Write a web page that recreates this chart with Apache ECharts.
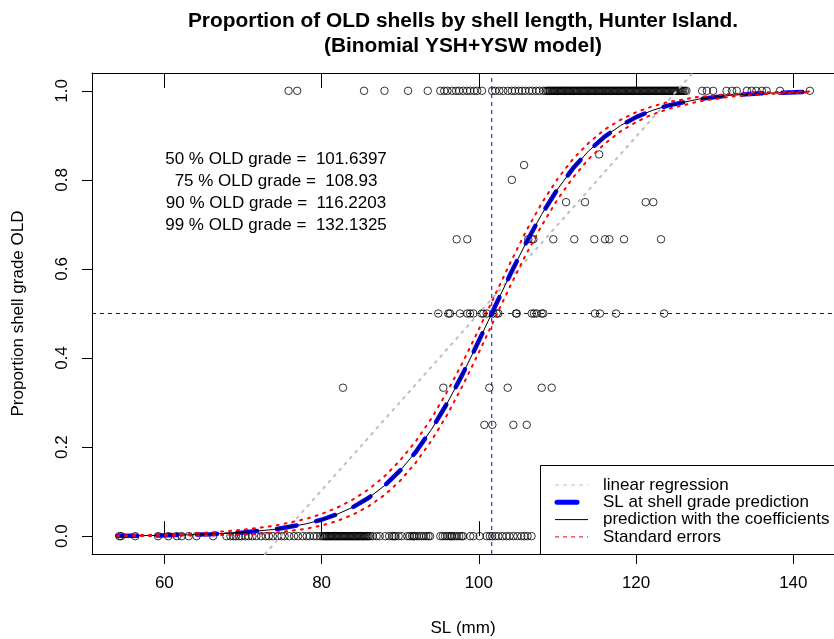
<!DOCTYPE html>
<html>
<head>
<meta charset="utf-8">
<script src="https://cdn.jsdelivr.net/npm/echarts@6/dist/echarts.min.js"></script>
<style>
  html, body { margin: 0; padding: 0; background: #fff; }
  #chart { width: 834px; height: 639px; }
</style>
</head>
<body>
<div id="chart"></div>
<script>
// Shell lengths (mm) of sampled groups, by observed proportion of OLD-grade shells
const slProp100 = [75.8, 76.9, 85.4, 88.0, 91.0, 93.5,
  95.1, 95.6, 96.0, 96.6, 97.1, 97.5, 98.0, 98.5, 98.9, 99.4, 99.8, 100.4,
  101.7, 102.1, 102.6, 103.1, 103.7, 104.2, 104.6, 105.1, 105.5, 105.9, 106.4, 106.8, 107.3, 107.7, 108.2, 108.5,
  108.7, 108.85, 109.0, 109.12, 109.3, 109.44, 109.58, 109.71, 109.88,
  110.02, 110.15, 110.33, 110.46, 110.6, 110.74, 110.9,
  111.03, 111.18, 111.32, 111.47, 111.61, 111.76, 111.92,
  112.05, 112.2, 112.34, 112.49, 112.63, 112.8, 112.94,
  113.08, 113.22, 113.37, 113.52, 113.66, 113.81, 113.95,
  114.1, 114.24, 114.38, 114.53, 114.69, 114.83, 114.97,
  115.12, 115.26, 115.41, 115.57, 115.7, 115.85,
  116.0, 116.14, 116.29, 116.44, 116.6, 116.73, 116.88,
  117.03, 117.17, 117.32, 117.48, 117.62, 117.77, 117.91,
  118.06, 118.2, 118.36, 118.5, 118.64, 118.8, 118.94,
  119.09, 119.23, 119.38, 119.53, 119.67, 119.82, 119.97,
  120.11, 120.26, 120.4, 120.56, 120.7, 120.85,
  121.0, 121.14, 121.29, 121.44, 121.59, 121.73, 121.88,
  122.03, 122.17, 122.32, 122.47, 122.62, 122.76, 122.91,
  123.06, 123.2, 123.35, 123.5, 123.65, 123.79, 123.94,
  124.09, 124.23, 124.38, 124.53, 124.68, 124.82, 124.97,
  125.12, 125.26, 125.41, 125.56, 125.71, 125.85, 126.0, 126.2, 126.4,
  128.4, 129.0, 129.8, 131.5, 132.2, 132.8, 134.1, 134.7, 135.3, 136.0, 136.6, 138.3, 142.1];

const slProp0 = [54.3, 54.5, 56.3, 59.2, 60.5, 61.6, 62.2, 63.1, 64.1, 66.2, 67.9,
  68.4, 68.8, 69.1, 69.5, 69.8, 70.3, 70.7, 71.2, 71.7, 72.3, 72.9, 73.3, 73.8, 74.4, 74.9, 75.3, 75.9, 76.5, 77.0, 77.6,
  78.1, 78.5, 79.0, 79.4, 79.8, 80.1,
  80.3, 80.45, 80.6, 80.74, 80.9, 81.05, 81.2, 81.34, 81.5, 81.65, 81.8, 81.94, 82.1, 82.25, 82.4, 82.54,
  82.7, 82.85, 83.0, 83.14, 83.3, 83.45, 83.6, 83.74, 83.9, 84.05, 84.2, 84.34, 84.5, 84.65, 84.8, 84.94,
  85.1, 85.25, 85.4, 85.54, 85.7, 85.85, 86.0, 86.2, 86.5,
  87.0, 87.4, 88.1, 88.6, 89.0, 89.2, 89.4, 89.8, 90.2, 90.9, 91.2, 91.5, 91.7, 91.8, 92.1, 92.4, 92.7, 93.0, 93.3, 93.6, 93.8,
  95.1, 95.4, 95.7, 96.0, 96.3, 96.5, 96.6, 96.9, 97.2, 97.5, 97.8, 98.0,
  98.9, 99.3, 100.1,
  101.0, 101.4, 101.7, 102.1, 102.5, 103.0, 103.5, 103.9, 104.4, 104.9, 105.4, 105.8, 106.2, 106.7];

const slProp50 = [94.84, 96.12, 96.33, 97.6, 98.53, 98.88, 99.3, 100.36, 100.57, 101.0, 101.84, 102.27, 102.48,
  104.73, 104.82, 106.73, 107.02, 107.36, 108.0, 108.2, 114.77, 115.4, 117.45, 123.56];
const slProp67 = [97.18, 98.53, 106.29, 106.73, 106.93, 109.47, 112.14, 114.68, 116.05, 116.6, 118.46, 123.17];
const slProp75 = [111.09, 113.5, 121.22, 122.19];
const slProp33 = [82.72, 95.48, 101.33, 103.67, 108.0, 109.27];
const slProp25 = [100.7, 101.72, 104.39, 106.09];
const slProp80 = [104.2];
const slProp83 = [105.75];
const slProp86 = [115.3];

// Fitted binomial model curve and its standard-error band
const curveSL = [54, 58, 62, 66, 70, 74, 78, 80, 82, 84, 86, 88, 90, 92, 94, 96, 98, 100, 102, 104,
  106, 108, 110, 112, 114, 116, 118, 120, 122, 124, 128, 132, 136, 142];
const fitProp = [0.0008, 0.0014, 0.0025, 0.0046, 0.0084, 0.0153, 0.0276, 0.0369, 0.0493, 0.0654,
  0.0864, 0.1134, 0.1475, 0.1896, 0.2403, 0.2994, 0.3661, 0.4386, 0.5136, 0.5880,
  0.6586, 0.7228, 0.7790, 0.8266, 0.8656, 0.8970, 0.9217, 0.9409, 0.9556, 0.9668, 0.9815, 0.9898, 0.9944, 0.9977];
const seUpper = [0.0018, 0.0029, 0.0050, 0.0086, 0.0144, 0.0233, 0.0386, 0.0499, 0.0643, 0.0824,
  0.1054, 0.1344, 0.1705, 0.2136, 0.2653, 0.3254, 0.3921, 0.4646, 0.5396, 0.6140,
  0.6846, 0.7478, 0.8020, 0.8476, 0.8836, 0.9130, 0.9347, 0.9519, 0.9646, 0.9748, 0.9865, 0.9928, 0.9964, 0.9987];
const seLower = [0.0003, 0.0006, 0.0012, 0.0022, 0.0034, 0.0073, 0.0166, 0.0239, 0.0343, 0.0484,
  0.0674, 0.0924, 0.1245, 0.1656, 0.2153, 0.2734, 0.3401, 0.4126, 0.4876, 0.5620,
  0.6326, 0.6978, 0.7560, 0.8056, 0.8476, 0.8810, 0.9087, 0.9299, 0.9466, 0.9588, 0.9765, 0.9868, 0.9924, 0.9967];

// Straight-line (linear regression) fit, end points across the plot
const linearSL = [72.8, 127.2];
const linearProp = [-0.04, 1.04];

// OLD-grade thresholds from the model
const gradePct = [50, 75, 90, 99];
const gradeSL = [101.6397, 108.93, 116.2203, 132.1325];
const halfProp = 0.5;

// Axis ticks
const xTicks = [60, 80, 100, 120, 140];
const yTicks = [0, 0.2, 0.4, 0.6, 0.8, 1.0];

const FONT = "'Liberation Sans', Arial, Helvetica, sans-serif";
const FS = 17;

const xRange = { min: 50.8, max: 145.17 };
const yRange = { min: -0.04, max: 1.04 };

const pointGroups = [
  [slProp0, 0], [slProp25, 0.25], [slProp33, 1 / 3], [slProp50, 0.5], [slProp67, 2 / 3],
  [slProp75, 0.75], [slProp80, 0.8], [slProp83, 5 / 6], [slProp86, 6 / 7], [slProp100, 1]
];
const pointData = [];
pointGroups.forEach(([xs, p]) => xs.forEach(x => pointData.push([x, p])));

const zip = (xs, ys) => xs.map((x, i) => [x, ys[i]]);

const chart = echarts.init(document.getElementById('chart'), null, { renderer: 'canvas' });

const tickStyle = { color: '#000', width: 1 };

const option = {
  animation: false,
  backgroundColor: '#ffffff',
  textStyle: { fontFamily: FONT, color: '#000' },
  title: {
    text: 'Proportion of OLD shells by shell length, Hunter Island.\n(Binomial YSH+YSW model)',
    left: 463,
    top: 9,
    textAlign: 'center',
    padding: 0,
    textStyle: { fontFamily: FONT, fontSize: 20.9, fontWeight: 'bold', color: '#000', lineHeight: 25 }
  },
  grid: { left: 92, top: 73, right: 0, bottom: 85, show: false, outerBoundsMode: 'none', containLabel: false },
  xAxis: [
    {
      type: 'value', position: 'bottom', ...xRange,
      name: 'SL (mm)', nameLocation: 'middle', nameGap: 66,
      nameTextStyle: { fontFamily: FONT, fontSize: FS, color: '#000' },
      axisLine: { show: true, onZero: false, lineStyle: tickStyle },
      splitLine: { show: false },
      axisTick: { show: true, length: 10, customValues: xTicks, lineStyle: tickStyle },
      axisLabel: { show: true, margin: 21, customValues: xTicks, fontFamily: FONT, fontSize: FS, color: '#000' }
    },
    {
      type: 'value', position: 'top', ...xRange,
      axisLine: { show: true, onZero: false, lineStyle: tickStyle },
      splitLine: { show: false },
      axisTick: { show: true, inside: true, length: 15, customValues: xTicks, lineStyle: tickStyle },
      axisLabel: { show: false }
    },
    {
      type: 'value', position: 'bottom', offset: 0, ...xRange,
      axisLine: { show: false },
      splitLine: { show: false },
      axisTick: { show: true, inside: true, length: 15, customValues: xTicks, lineStyle: tickStyle },
      axisLabel: { show: false }
    }
  ],
  yAxis: {
    type: 'value', position: 'left', ...yRange,
    name: 'Proportion shell grade OLD', nameLocation: 'middle', nameGap: 65,
    nameTextStyle: { fontFamily: FONT, fontSize: FS, color: '#000' },
    axisLine: { show: true, onZero: false, lineStyle: tickStyle },
    splitLine: { show: false },
    axisTick: { show: true, length: 10, customValues: yTicks, lineStyle: tickStyle },
    axisLabel: {
      show: true, rotate: 90, margin: 21, customValues: yTicks,
      fontFamily: FONT, fontSize: FS, color: '#000',
      formatter: v => v.toFixed(1)
    }
  },
  series: [
    {
      name: 'observations', type: 'scatter', z: 2,
      data: pointData,
      symbol: 'circle', symbolSize: 7.5,
      itemStyle: { color: 'rgba(0,0,0,0)', borderColor: '#000', borderWidth: 1 },
      emphasis: { disabled: true }, silent: true
    },
    {
      name: 'linear regression', type: 'line', z: 3,
      data: zip(linearSL, linearProp), symbol: 'none',
      lineStyle: { color: '#bebebe', width: 2, type: [2, 6], cap: 'round' },
      silent: true
    },
    {
      name: 'SL at shell grade prediction', type: 'line', z: 4,
      data: zip(curveSL, fitProp), symbol: 'none',
      lineStyle: { color: '#0000ff', width: 4.5, type: [20, 20], cap: 'round', join: 'round' },
      silent: true
    },
    {
      name: 'prediction with the coefficients', type: 'line', z: 5,
      data: zip(curveSL, fitProp), symbol: 'none',
      lineStyle: { color: '#000', width: 1 },
      silent: true
    },
    {
      name: 'Standard errors', type: 'line', z: 6,
      data: zip(curveSL, seUpper), symbol: 'none',
      lineStyle: { color: '#ff0000', width: 2, type: [2, 6], cap: 'round' },
      silent: true
    },
    {
      name: 'Standard errors (lower)', type: 'line', z: 6,
      data: zip(curveSL, seLower), symbol: 'none',
      lineStyle: { color: '#ff0000', width: 2, type: [2, 6], cap: 'round' },
      silent: true
    },
    {
      name: '50% OLD grade', type: 'line', z: 7,
      data: [[gradeSL[0], yRange.min], [gradeSL[0], yRange.max]], symbol: 'none',
      lineStyle: { color: '#0000ff', width: 1, type: [4, 4] },
      silent: true
    },
    {
      name: 'half proportion', type: 'line', z: 7,
      data: [[xRange.min, halfProp], [xRange.max, halfProp]], symbol: 'none',
      lineStyle: { color: '#0000ff', width: 1, type: [4, 4] },
      silent: true
    }
  ],
  graphic: []
};

// Threshold annotations
const annot = gradePct.map((p, i) => ({
  type: 'text', z: 100, x: 276, y: 159 + i * 22,
  style: {
    text: p + ' % OLD grade =  ' + gradeSL[i],
    fontFamily: FONT, fontSize: FS, fill: '#000',
    align: 'center', verticalAlign: 'middle'
  }
}));

// Legend box (bottom right)
const legendRows = [
  { label: 'linear regression', stroke: '#bebebe', width: 1, dash: [4, 4] },
  { label: 'SL at shell grade prediction', stroke: '#0000ff', width: 5, dash: null, cap: 'round' },
  { label: 'prediction with the coefficients', stroke: '#000', width: 1, dash: null },
  { label: 'Standard errors', stroke: '#ff0000', width: 1, dash: [4, 4] }
];
const legendEls = [{
  type: 'rect', z: 90,
  shape: { x: 540.5, y: 465.5, width: 320, height: 89 },
  style: { fill: '#fff', stroke: '#000', lineWidth: 1 }
}];
legendRows.forEach((r, i) => {
  const y = 485 + i * 17.3;
  legendEls.push({
    type: 'line', z: 95,
    shape: { x1: r.cap ? 557 : 555, y1: y, x2: r.cap ? 577 : 588, y2: y },
    style: { stroke: r.stroke, lineWidth: r.width, lineDash: r.dash, lineCap: r.cap || 'butt' }
  });
  legendEls.push({
    type: 'text', z: 95, x: 603, y: y,
    style: {
      text: r.label, fontFamily: FONT, fontSize: FS, fill: '#000',
      verticalAlign: 'middle'
    }
  });
});

option.graphic = annot.concat(legendEls);

chart.setOption(option);
</script>
</body>
</html>
